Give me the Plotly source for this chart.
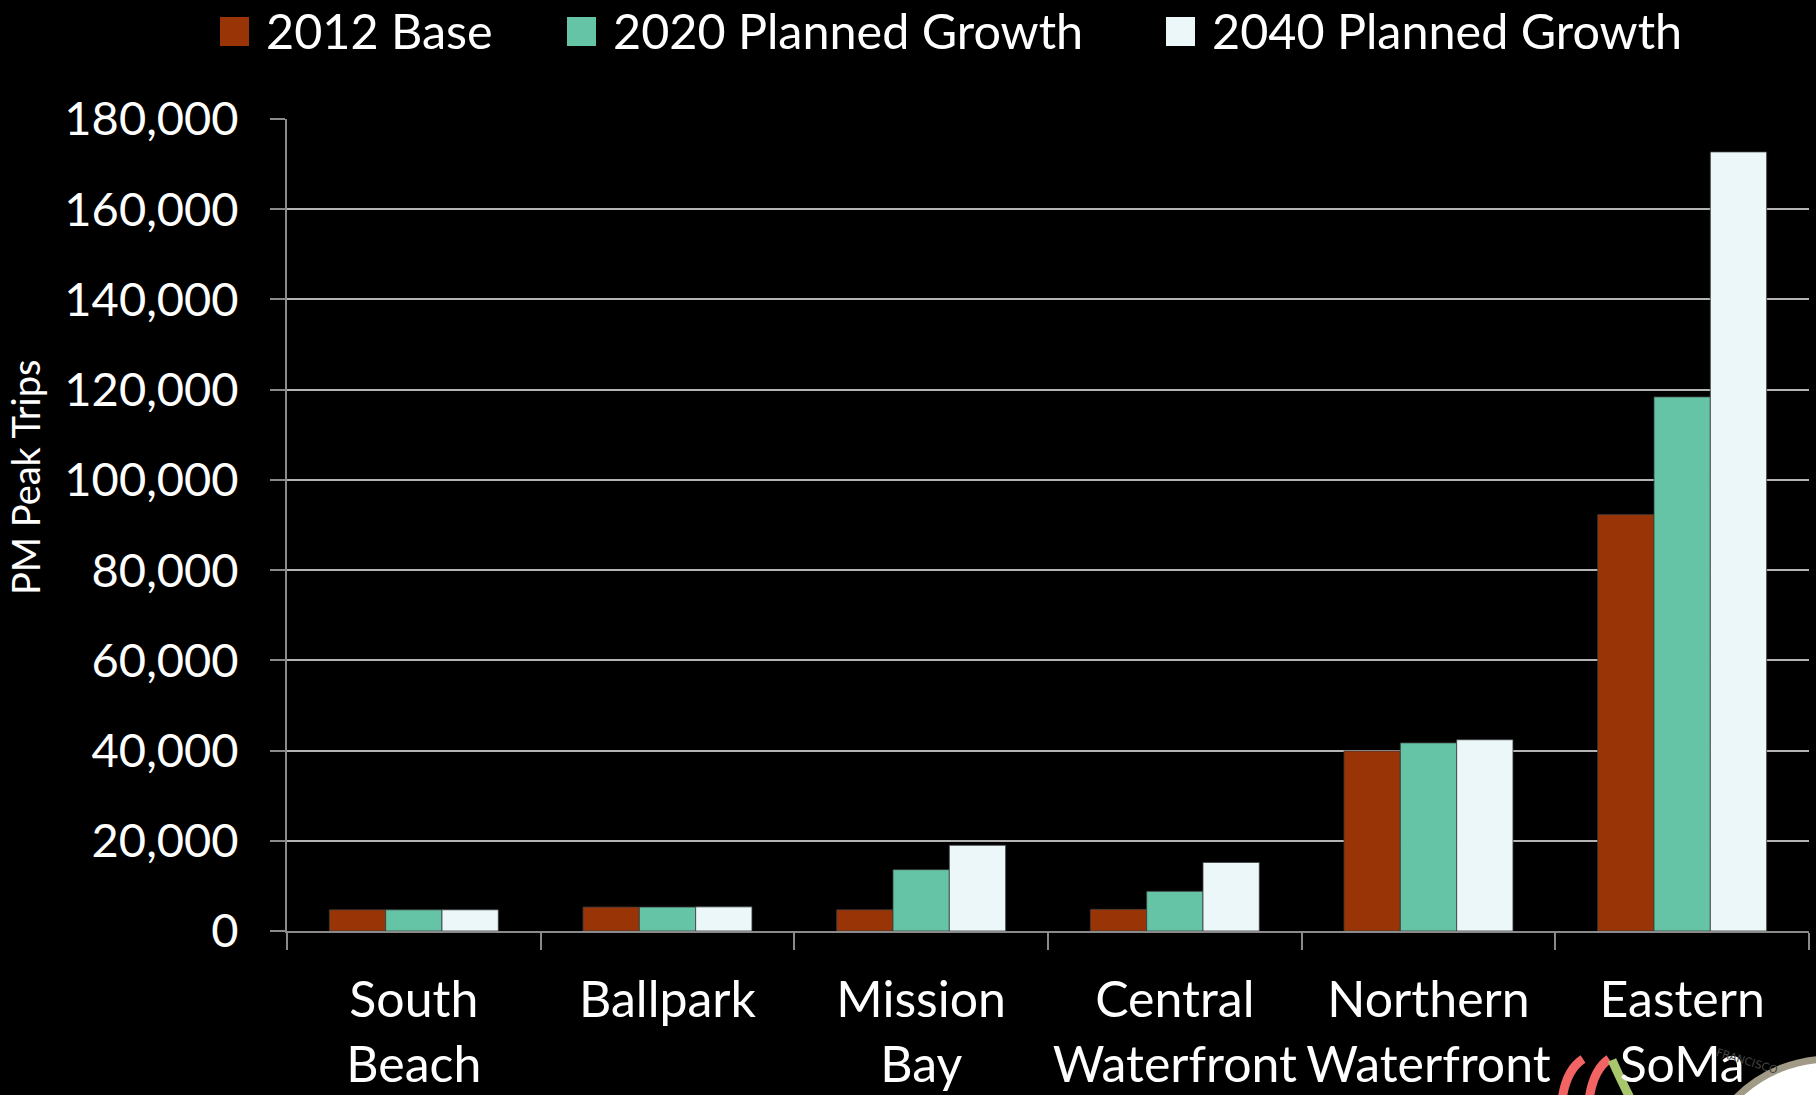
import plotly.graph_objects as go

categories = ["South<br>Beach", "Ballpark", "Mission<br>Bay", "Central<br>Waterfront",
              "Northern<br>Waterfront", "Eastern<br>SoMa"]
series_names = ["2012 Base", "2020 Planned Growth", "2040 Planned Growth"]
base_2012 = [4700, 5300, 4700, 4800, 39900, 92300]
growth_2020 = [4700, 5300, 13600, 8800, 41700, 118400]
growth_2040 = [4700, 5350, 19000, 15200, 42400, 172700]
colors = ["#983406", "#66C4A6", "#EBF7F9"]
y_ticks = list(range(0, 180001, 20000))

W, H = 1816, 1095
L, R, T, B = 287, 1809, 119, 931
FONT = "Lato"


def pxx(x):
    return (x - L) / (R - L)


def pxy(y):
    return (B - y) / (B - T)


fig = go.Figure()
for name, vals, col in zip(series_names, [base_2012, growth_2020, growth_2040], colors):
    fig.add_trace(go.Bar(
        x=categories, y=vals, name=name,
        marker=dict(color=col, line=dict(color="rgba(60,60,60,0.8)", width=1)),
        showlegend=False,
    ))

# manual legend (squares + text)
legend_sq = [(220, 249), (567, 596), (1166, 1195)]
legend_tx = [264, 611, 1210]
shapes = []
annotations = []
for (x0, x1), tx, name, col in zip(legend_sq, legend_tx, series_names, colors):
    shapes.append(dict(type="rect", xref="paper", yref="paper",
                       x0=pxx(x0), x1=pxx(x1), y0=pxy(46), y1=pxy(17),
                       fillcolor=col, line=dict(width=0), layer="below"))
    annotations.append(dict(xref="paper", yref="paper", x=pxx(tx), y=pxy(30),
                            xanchor="left", yanchor="middle", showarrow=False,
                            text=name, font=dict(family=FONT, size=48.5, color="white")))

# y axis title
annotations.append(dict(xref="paper", yref="paper", x=pxx(25), y=pxy(478),
                        xanchor="center", yanchor="middle", showarrow=False,
                        textangle=-90, text="PM Peak Trips",
                        font=dict(family=FONT, size=38, color="white")))

# logo fragments at bottom right
shapes.append(dict(type="path", xref="paper", yref="paper",
                   path=f"M {pxx(1562)} {pxy(1100)} Q {pxx(1566)} {pxy(1070)} {pxx(1583)} {pxy(1059)}",
                   line=dict(color="#F26464", width=9), layer="below"))
shapes.append(dict(type="path", xref="paper", yref="paper",
                   path=f"M {pxx(1589)} {pxy(1100)} Q {pxx(1593)} {pxy(1070)} {pxx(1609)} {pxy(1059)}",
                   line=dict(color="#F26464", width=9), layer="below"))
shapes.append(dict(type="path", xref="paper", yref="paper",
                   path=f"M {pxx(1612)} {pxy(1060)} Q {pxx(1620)} {pxy(1078)} {pxx(1631)} {pxy(1100)}",
                   line=dict(color="#A8C66C", width=9), layer="below"))
shapes.append(dict(type="circle", xref="paper", yref="paper",
                   x0=pxx(1697), x1=pxx(1963), y0=pxy(1325), y1=pxy(1059),
                   fillcolor="white", line=dict(color="#A09A86", width=7), layer="below"))
annotations.append(dict(xref="paper", yref="paper", x=pxx(1782), y=pxy(1080),
                        showarrow=False, text="FRANCISCO", textangle=17,
                        font=dict(family="DejaVu Sans", size=11, color="#444")))

fig.update_layout(
    width=W, height=H, autosize=False,
    margin=dict(l=L, r=W - R, t=T, b=H - B, pad=0, autoexpand=False),
    paper_bgcolor="black", plot_bgcolor="black",
    barmode="group", bargap=0.334, bargroupgap=0,
    shapes=shapes, annotations=annotations,
    font=dict(family=FONT, color="white"),
    xaxis=dict(
        tickson="boundaries", ticks="outside", ticklen=17, tickwidth=2, tickcolor="#8A8A8A",
        showline=True, linecolor="#8A8A8A", linewidth=2, showgrid=False,
        tickfont=dict(family=FONT, size=50, color="white"),
        tickangle=0, automargin=False,
        ticklabelstandoff=24,
    ),
    yaxis=dict(
        range=[0, 180000], tickvals=y_ticks, tickformat=",",
        ticks="outside", ticklen=15, tickwidth=2, tickcolor="#8A8A8A",
        showline=True, linecolor="#8A8A8A", linewidth=2,
        showgrid=True, gridcolor="#B4B4B4", gridwidth=2, zeroline=False,
        tickfont=dict(family=FONT, size=47, color="white"),
        automargin=False,
        ticklabelstandoff=22,
    ),
)

fig.write_html(
    "out.html",
    config={"displayModeBar": False},
    post_script="document.body.style.margin='0';document.body.style.background='black';"
                "document.body.style.overflow='hidden';",
)
